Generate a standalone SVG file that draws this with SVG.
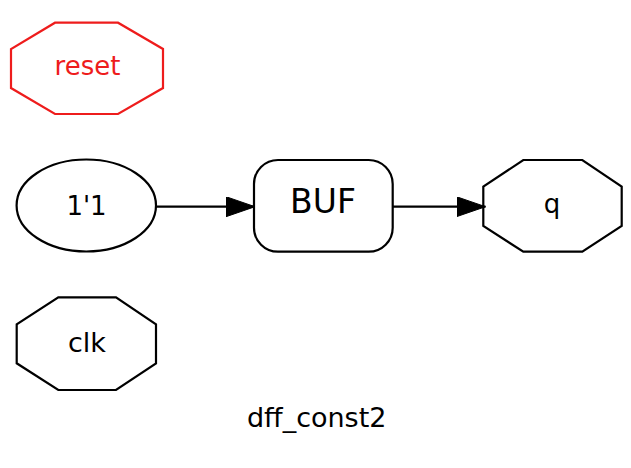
<svg xmlns="http://www.w3.org/2000/svg" width="631" height="468" viewBox="0 0 631 468">
<style>
.s{fill:none;stroke:#000;stroke-width:2.2}
.r{fill:none;stroke:#ee1c1c;stroke-width:2.2}
text{font-family:"DejaVu Sans","Liberation Sans",sans-serif;font-size:26px;text-anchor:middle;fill:#000}
.e{fill:none;stroke:#000;stroke-width:2.2}
</style>
<defs>
<marker id="ah" markerUnits="userSpaceOnUse" markerWidth="30" markerHeight="22" refX="29" refY="10" orient="auto">
<polygon points="0,0 29,10 0,20" fill="#000" stroke="#000" stroke-width="1"/>
</marker>
</defs>
<rect width="631" height="468" fill="#fff"/>
<g id="reset">
<polygon class="r" points="55,22.7 118,22.7 163,49 163,88 118,114 55,114 11,88 11,49"/>
<text x="87.5" y="75" style="fill:#ee1c1c">reset</text>
</g>
<g id="const">
<ellipse class="s" cx="86.3" cy="205.5" rx="69.7" ry="46"/>
<text x="86.5" y="214.5">1'1</text>
</g>
<g id="buf">
<rect class="s" x="254" y="160" width="138.7" height="91.7" rx="24" ry="24"/>
<text x="323" y="213" style="font-size:33px">BUF</text>
</g>
<g id="q">
<polygon class="s" points="523.3,160 582.3,160 621.7,186.7 621.7,226 582.3,251.7 523.3,251.7 483.3,226 483.3,186.7"/>
<text x="552" y="213">q</text>
</g>
<g id="clk">
<polygon class="s" points="58.3,297.3 116,297.3 156,324.3 156,363.3 116,390 58.3,390 16.7,363.3 16.7,324.3"/>
<text x="87" y="352" style="font-size:27px">clk</text>
</g>
<g id="edges">
<line class="e" x1="156" y1="206.7" x2="255" y2="206.7" marker-end="url(#ah)"/>
<line class="e" x1="392.7" y1="206.7" x2="485.5" y2="206.7" marker-end="url(#ah)"/>
</g>
<text x="316.7" y="427" style="font-size:27px">dff_const2</text>
</svg>
